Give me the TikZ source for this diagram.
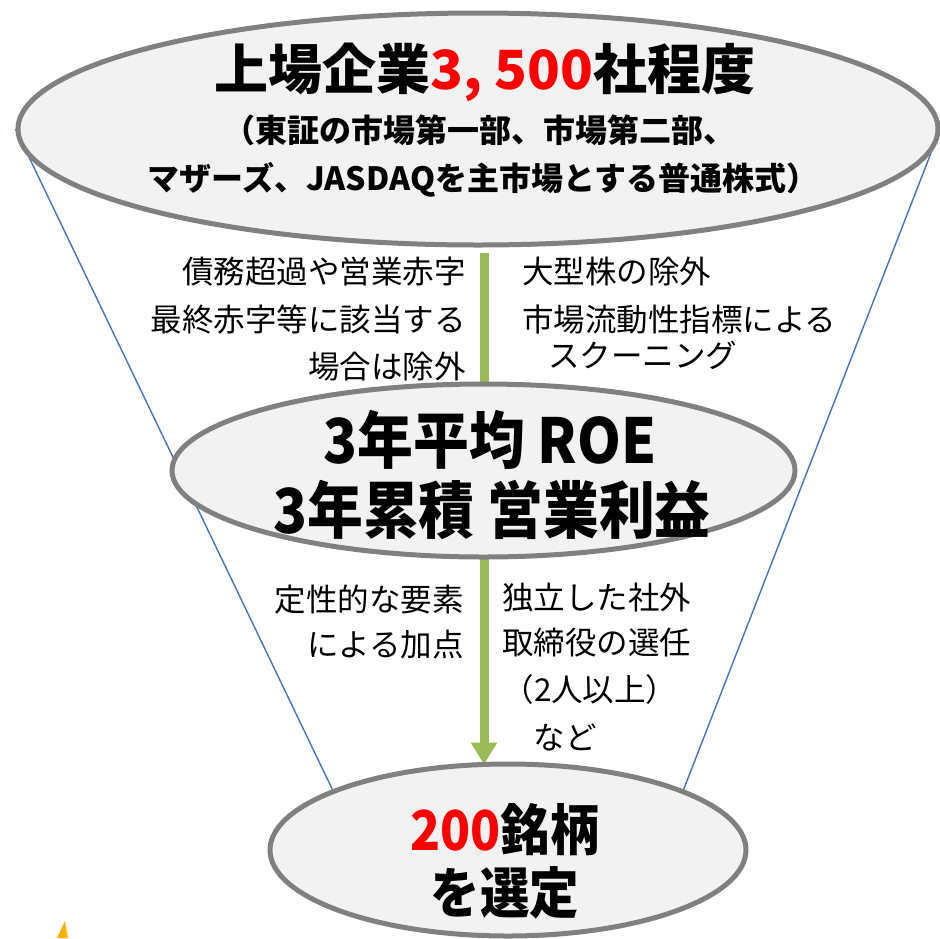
\documentclass[tikz,border=0pt]{standalone}
\usepackage{fontspec}
\newfontfamily\jp{Noto Sans CJK JP}
\newfontfamily\jpc{Noto Sans CJK JP}[FakeStretch=0.9]
\usetikzlibrary{shapes.geometric,arrows.meta}
\pgfdeclarelayer{bg}
\pgfsetlayers{bg,main}
\definecolor{ellfill}{HTML}{F2F2F2}
\definecolor{ellline}{HTML}{808080}
\definecolor{funnel}{HTML}{4472C4}
\definecolor{arrowgreen}{HTML}{9BBB59}
\definecolor{markorange}{HTML}{FFB000}
\begin{document}
\begin{tikzpicture}[x=1pt,y=-1pt,
  ell/.style={ellipse,draw=ellline,fill=ellfill,line width=5pt,inner sep=0pt},
  bigtxt/.style={inner sep=0pt,font=\jp\bfseries\fontsize{54}{60}\selectfont},
  subtxt/.style={inner sep=0pt,font=\jp\bfseries\fontsize{32}{36}\selectfont},
  midtxt/.style={inner sep=0pt,font=\jpc\bfseries\fontsize{62}{68}\selectfont},
  bottxt/.style={inner sep=0pt,font=\jpc\bfseries\fontsize{55}{60}\selectfont},
  sidetxt/.style={inner sep=0pt,font=\jp\fontsize{31.5}{36}\selectfont},
  funnelline/.style={draw=funnel,line width=1.4pt},
  flow/.style={draw=arrowgreen,line width=9pt,-{Triangle[width=25pt,length=22pt]}}]
\useasboundingbox (0,0) rectangle (940,938);

% ellipses
\node[ell,minimum width=920pt,minimum height=232pt] (top) at (478,129) {};
\node[ell,minimum width=623pt,minimum height=173pt] (mid) at (483.5,470.5) {};
\node[ell,minimum width=476pt,minimum height=172pt] (bot) at (508,850) {};

% connectors behind
\begin{pgfonlayer}{bg}
  \draw[funnelline] (top.180) -- (bot.161);
  \draw[funnelline] (top.-3) -- (bot.19);
  \draw[flow] ([xshift=6pt,yshift=-5pt]top.south) -- ([xshift=-24pt,yshift=-3pt]bot.north);
\end{pgfonlayer}

% top texts
\node[bigtxt] (t1) at (485,72) {上場企業\textcolor{red}{3, 500}社程度};
\node[subtxt] (t2) at (479,130) {（東証の市場第一部、市場第二部、};
\node[subtxt] (t3) at (483,180) {マザーズ、JASDAQを主市場とする普通株式）};

% middle texts
\node[midtxt] (m1) at (490,440) {3年平均 ROE};
\node[midtxt] (m2) at (492,510) {3年累積 営業利益};

% bottom texts
\node[bottxt] (b1) at (505,830) {\textcolor{red}{200}銘柄};
\node[bottxt] (b2) at (505,893) {を選定};

% side texts upper
\node[sidetxt,anchor=east] (l1) at (466,272) {債務超過や営業赤字};
\node[sidetxt,anchor=east] (l2) at (466,320) {最終赤字等に該当する};
\node[sidetxt,anchor=east] (l3) at (466,367) {場合は除外};
\node[sidetxt,anchor=west] (r1) at (522,272) {大型株の除外};
\node[sidetxt,anchor=west] (r2) at (522,320) {市場流動性指標による};
\node[sidetxt,anchor=west] (r3) at (548,355) {スクーニング};

% side texts lower
\node[sidetxt,anchor=east] (l4) at (464,600) {定性的な要素};
\node[sidetxt,anchor=east] (l5) at (464,645) {による加点};
\node[sidetxt,anchor=west] (r4) at (502,598) {独立した社外};
\node[sidetxt,anchor=west] (r5) at (502,643) {取締役の選任};
\node[sidetxt] (r6) at (590,690) {（2人以上）};
\node[sidetxt] (r7) at (565,737) {など};

% small orange mark at bottom left
\fill[markorange] (57,938) -- (65,921) -- (68,938) -- cycle;
\end{tikzpicture}
\end{document}
